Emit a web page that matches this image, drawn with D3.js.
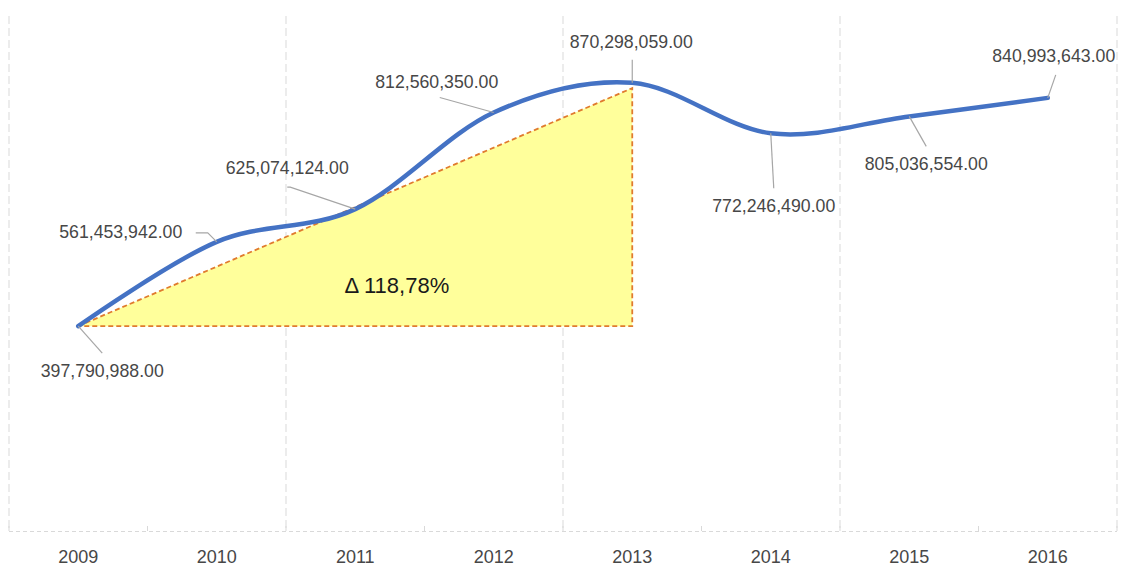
<!DOCTYPE html>
<html>
<head>
<meta charset="utf-8">
<script src="https://cdn.jsdelivr.net/npm/d3@7"></script>
<style>
  body { margin: 0; background: #fff; }
  svg { display: block; font-family: "Liberation Sans", Arial, sans-serif; }
</style>
</head>
<body>
<div id="container"></div>
<script>
/* DATA */
const years = ['2009', '2010', '2011', '2012', '2013', '2014', '2015', '2016']
const values = [397790988, 561453942, 625074124, 812560350, 870298059, 772246490, 805036554, 840993643]
const valueLabels = ['397,790,988.00', '561,453,942.00', '625,074,124.00', '812,560,350.00',
  '870,298,059.00', '772,246,490.00', '805,036,554.00', '840,993,643.00']
// shaded delta triangle: from 2009 to 2013 (top vertex drawn a little under the line)
const deltaYears = ['2009', '2013']
const deltaValues = [397790988, 860000000]
const deltaText = 'Δ 118,78%'

/* LAYOUT */
const width = 1121, height = 568
const plot = { left: 9, right: 1117, top: 16, bottom: 531 }

// label offsets (from the point) and leader line bends, per year
const labelPos = [
  { dx: 24, dy: 44, leader: [[24, 27]] },
  { dx: -96, dy: -10, leader: [[-9, -9], [-21, -9]] },
  { dx: -68, dy: -41, leader: [[-65, -22], [-68, -22]] },
  { dx: -57, dy: -31, leader: [[-54, -15]] },
  { dx: -1, dy: -41, leader: [[0, -23]] },
  { dx: 3, dy: 72, leader: [[3, 55]] },
  { dx: 17, dy: 47, leader: [[17, 30]] },
  { dx: 6, dy: -42, leader: [[8, -23]] }
]

const data = years.map((y, i) => ({ year: y, value: values[i], label: valueLabels[i], pos: labelPos[i] }))

const svg = d3.select('#container')
  .append('svg')
  .attr('width', width)
  .attr('height', height)

const xScale = d3.scaleBand()
  .domain(years)
  .range([plot.left, plot.right])
  .padding(0)

const yScale = d3.scaleLinear()
  .domain([0, 1000000000])
  .range([plot.bottom, plot.top])

const cx = d => xScale(d) + xScale.bandwidth() / 2

// category boundaries
const bounds = years.map(d => xScale(d)).concat([plot.right])

// vertical gridlines, every second boundary
svg.append('g')
  .selectAll('line')
  .data(bounds.filter((b, i) => i % 2 === 0))
  .join('line')
  .attr('x1', d => d).attr('x2', d => d)
  .attr('y1', plot.top).attr('y2', plot.bottom)
  .attr('stroke', '#d9d9d9')
  .attr('stroke-width', 1)
  .attr('stroke-dasharray', '8,4')

// x axis
const xAxis = d3.axisBottom(xScale).tickSize(0).tickPadding(0)
const xAxisGroup = svg.append('g')
  .attr('transform', `translate(0, ${plot.bottom})`)
  .call(xAxis)
xAxisGroup.select('.domain')
  .attr('d', `M${plot.left},0.5H${plot.right}`)
  .attr('stroke', '#d9d9d9')
  .attr('stroke-dasharray', '4,3')
xAxisGroup.selectAll('text')
  .attr('y', 32)
  .attr('dy', 0)
  .attr('fill', '#474747')
  .style('font-size', '18px')
  .style('font-family', '"Liberation Sans", Arial, sans-serif')

// small tick marks at boundaries
svg.append('g')
  .selectAll('line')
  .data(bounds)
  .join('line')
  .attr('x1', d => d).attr('x2', d => d)
  .attr('y1', plot.bottom - 5).attr('y2', plot.bottom)
  .attr('stroke', '#d9d9d9')

// delta triangle
const tx0 = cx(deltaYears[0]), tx1 = cx(deltaYears[1])
const ty0 = yScale(deltaValues[0]), ty1 = yScale(deltaValues[1])
svg.append('path')
  .attr('d', `M${tx0},${ty0}L${tx1},${ty1}L${tx1},${ty0}Z`)
  .attr('fill', '#ffff9b')
  .attr('stroke', '#e07b2e')
  .attr('stroke-width', 1.8)
  .attr('stroke-dasharray', '5,3')

svg.append('text')
  .attr('x', tx0 + (tx1 - tx0) * 0.575)
  .attr('y', ty0 - 33)
  .attr('text-anchor', 'middle')
  .attr('fill', '#1a1a1a')
  .style('font-size', '22px')
  .text(deltaText)

// smoothed line
const line = d3.line()
  .x(d => cx(d.year))
  .y(d => yScale(d.value))
  .curve(d3.curveCardinal.tension(0))

svg.append('path')
  .datum(data)
  .attr('fill', 'none')
  .attr('stroke', '#4472c4')
  .attr('stroke-width', 4.5)
  .attr('stroke-linecap', 'round')
  .attr('stroke-linejoin', 'round')
  .attr('d', line)

// leader lines
svg.append('g')
  .selectAll('path')
  .data(data)
  .join('path')
  .attr('fill', 'none')
  .attr('stroke', '#a6a6a6')
  .attr('stroke-width', 1.2)
  .attr('d', d => {
    const px = cx(d.year), py = yScale(d.value)
    return 'M' + [[0, 0]].concat(d.pos.leader).map(p => `${px + p[0]},${py + p[1]}`).join('L')
  })

// data labels
svg.append('g')
  .selectAll('text')
  .data(data)
  .join('text')
  .attr('x', d => cx(d.year) + d.pos.dx)
  .attr('y', d => yScale(d.value) + d.pos.dy)
  .attr('dy', '0.36em')
  .attr('text-anchor', 'middle')
  .attr('fill', '#474747')
  .style('font-size', '17.7px')
  .text(d => d.label)
</script>
</body>
</html>
